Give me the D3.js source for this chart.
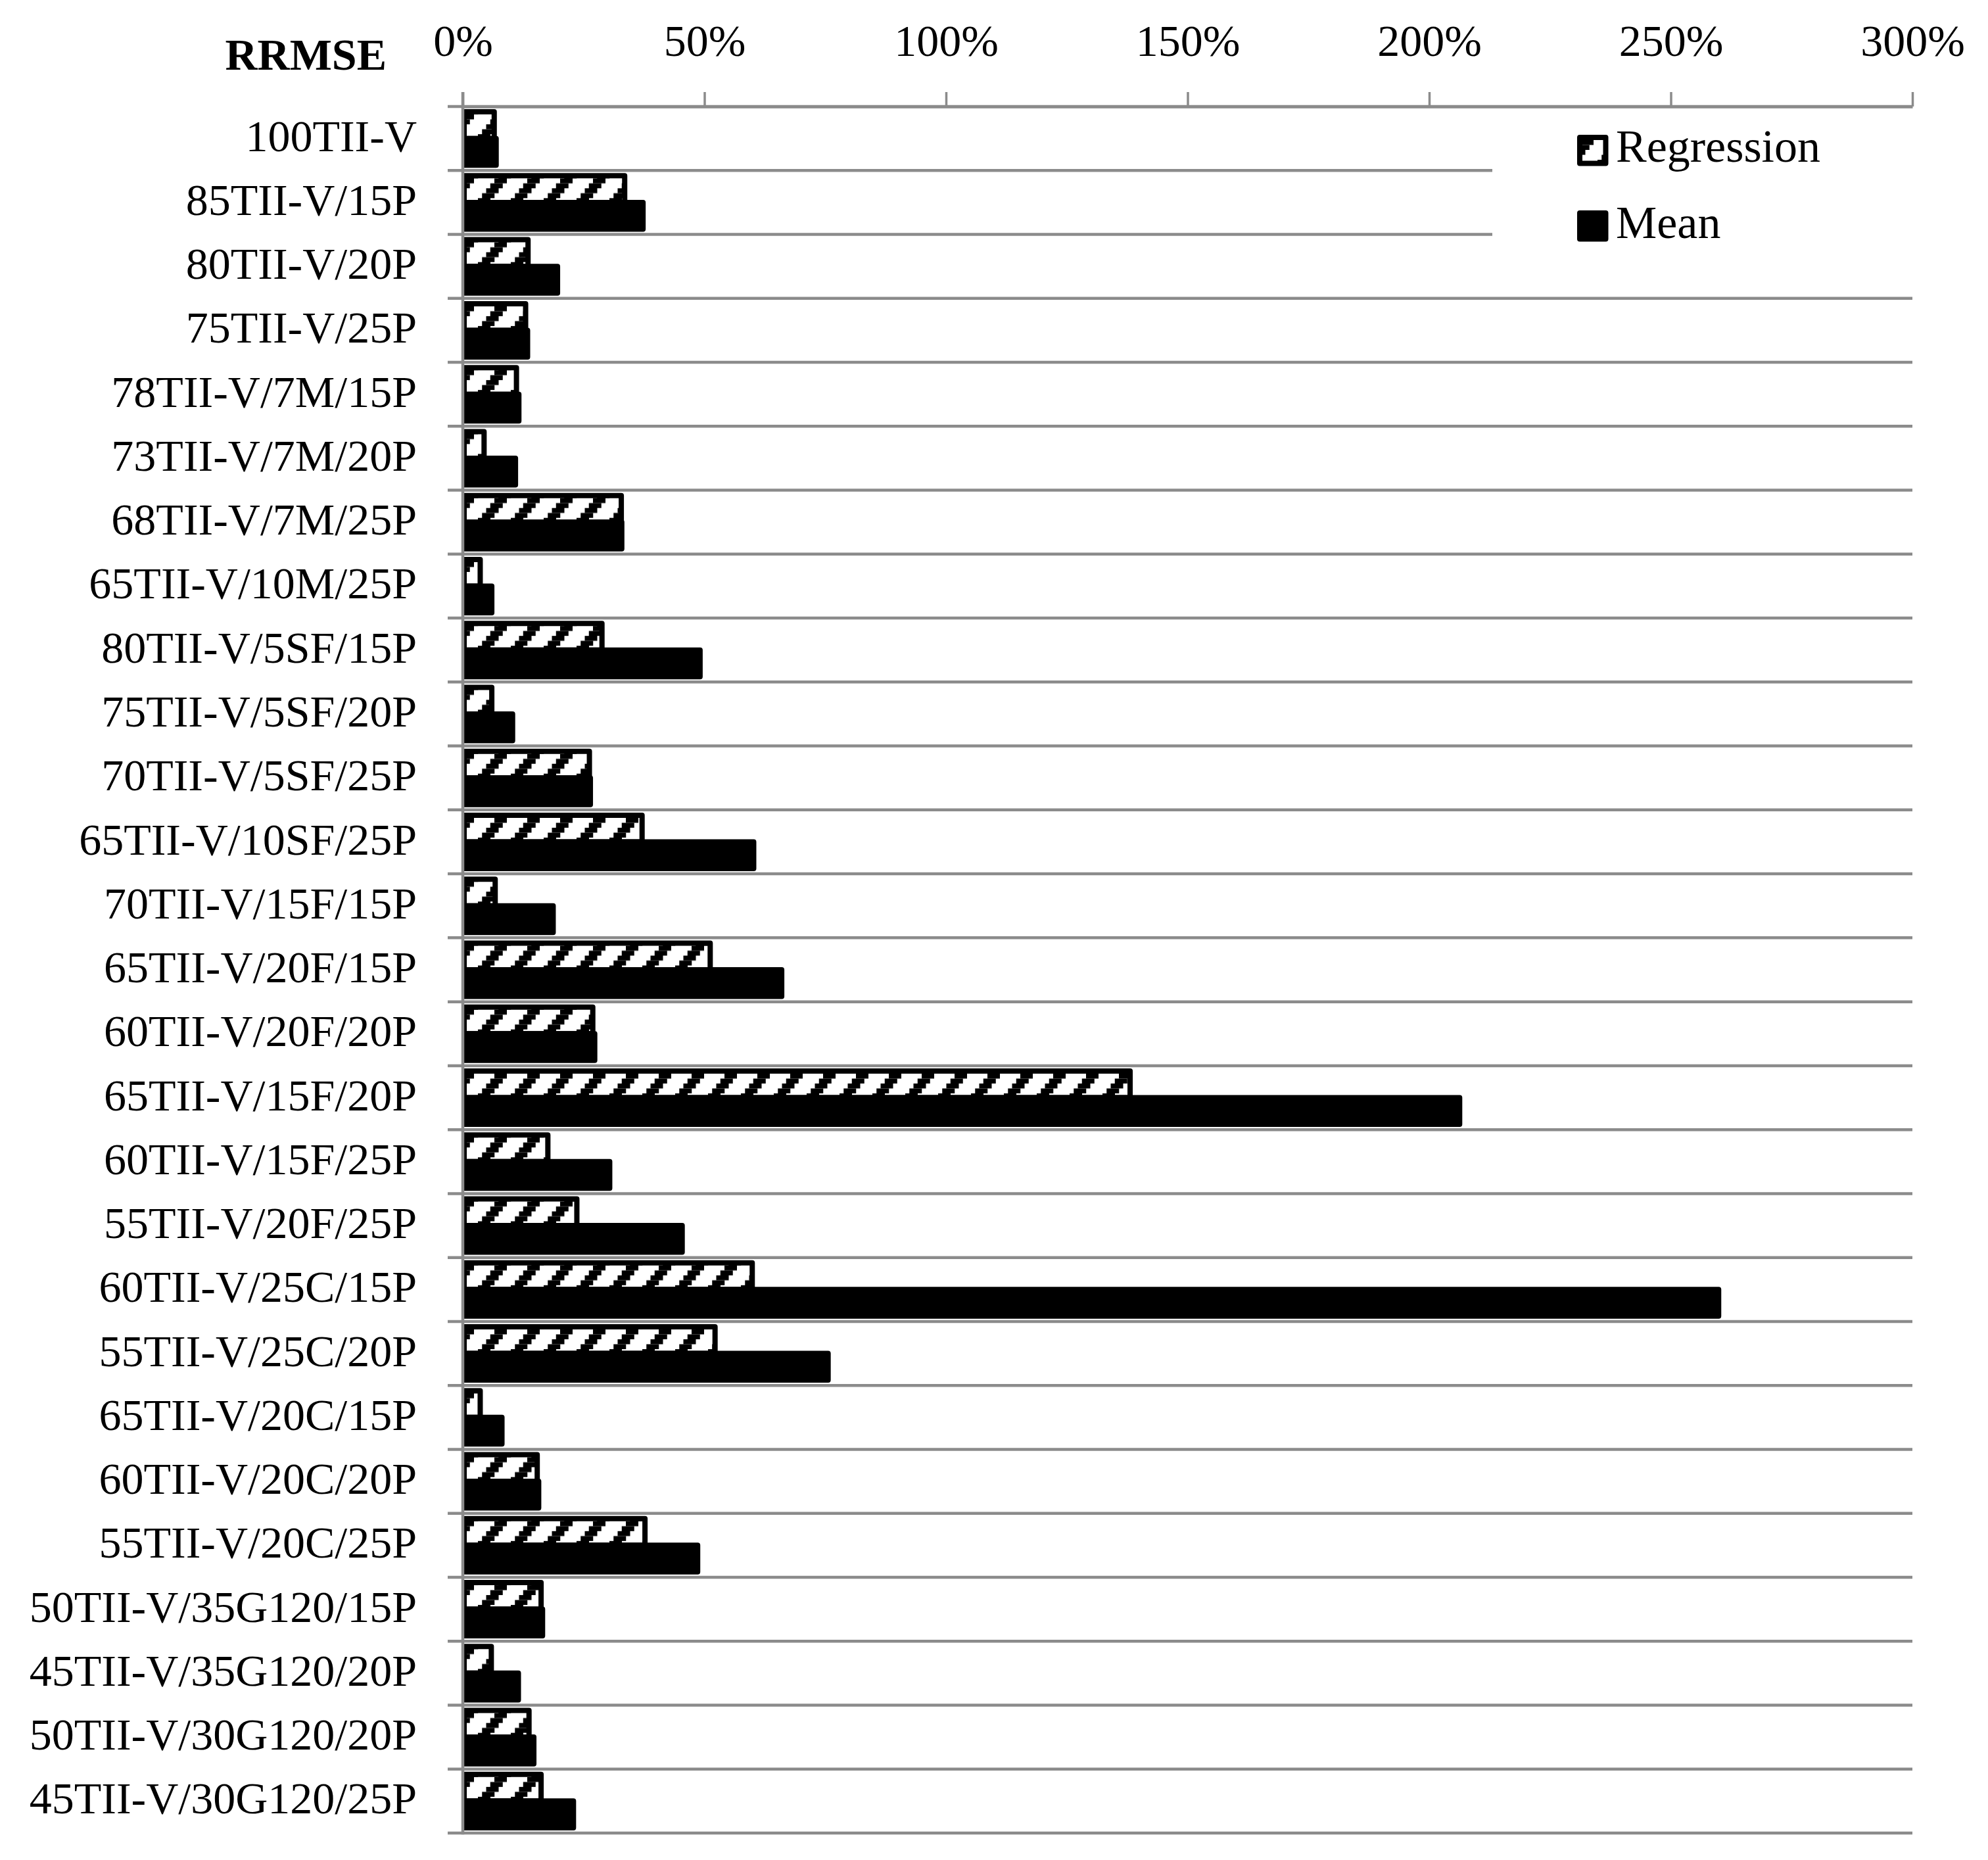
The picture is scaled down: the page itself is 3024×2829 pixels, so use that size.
<!DOCTYPE html>
<html>
<head>
<meta charset="utf-8">
<script src="https://cdn.jsdelivr.net/npm/d3@7"></script>
<style>
  body { margin: 0; background: #fff; }
  svg text { font-family: "Palatino Linotype", "Book Antiqua", Palatino, "Liberation Serif", "Times New Roman", serif; fill: #000; }
</style>
</head>
<body>
<svg id="chart" width="3024" height="2829"></svg>
<script>
// RRMSE per mixture, regression vs mean model (horizontal grouped bars)
const categories = [
  '100TII-V', '85TII-V/15P', '80TII-V/20P', '75TII-V/25P', '78TII-V/7M/15P',
  '73TII-V/7M/20P', '68TII-V/7M/25P', '65TII-V/10M/25P', '80TII-V/5SF/15P',
  '75TII-V/5SF/20P', '70TII-V/5SF/25P', '65TII-V/10SF/25P', '70TII-V/15F/15P',
  '65TII-V/20F/15P', '60TII-V/20F/20P', '65TII-V/15F/20P', '60TII-V/15F/25P',
  '55TII-V/20F/25P', '60TII-V/25C/15P', '55TII-V/25C/20P', '65TII-V/20C/15P',
  '60TII-V/20C/20P', '55TII-V/20C/25P', '50TII-V/35G120/15P', '45TII-V/35G120/20P',
  '50TII-V/30G120/20P', '45TII-V/30G120/25P'
];
const series = ['Regression', 'Mean'];
const regression = [6.5, 33.5, 13.5, 13.0, 11.1, 4.4, 32.8, 3.6, 28.8, 6.0, 26.2, 37.1, 6.7, 51.2,
  26.9, 138.1, 17.6, 23.6, 59.9, 52.2, 3.6, 15.4, 37.7, 16.2, 5.9, 13.7, 16.2];
const mean = [6.9, 37.3, 19.6, 13.4, 11.6, 10.9, 32.9, 6.0, 49.1, 10.3, 26.4, 60.2, 18.7, 66.0,
  27.3, 206.3, 30.4, 45.4, 259.9, 75.6, 8.1, 15.7, 48.6, 16.5, 11.5, 14.7, 22.9];
const tickValues = [0, 50, 100, 150, 200, 250, 300];

const svg = d3.select('#chart');
const GRID = '#8b8b8b', FS = 68, SW = 8;
const x = d3.scaleLinear().domain([0, 300]).range([704, 2909]);
const y = d3.scaleBand().domain(categories).range([162, 2788]);
const ys = d3.scaleBand().domain(series).range([0, y.bandwidth()]).paddingOuter(0.2);

// wide upward diagonal hatch, one pattern per bar so every bar starts in phase
const defs = svg.append('defs');
function hatch(id, tx, ty) {
  const p = defs.append('pattern').attr('id', id)
    .attr('patternUnits', 'userSpaceOnUse').attr('width', 50).attr('height', 60)
    .attr('patternTransform', `translate(${tx},${ty})`);
  p.append('rect').attr('width', 50).attr('height', 60).attr('fill', '#fff');
  for (let r = 0; r < 8; r++) {
    const bx = ((48 - 6.25 * r) % 50 + 50) % 50;
    [bx, bx - 50].forEach(xx => p.append('rect').attr('x', xx).attr('y', r * 7.5)
      .attr('width', 19).attr('height', 7.5).attr('fill', '#000'));
  }
}
categories.forEach((c, i) => hatch('hatch-' + i, x(0), y(c) + ys('Regression') + SW / 2));

// category separators (also the tick marks left of the axis)
const seps = categories.map(c => y(c)).concat([y.range()[1]]);
svg.append('g').selectAll('line').data(seps).join('line')
  .attr('x1', 681).attr('x2', x(300)).attr('y1', d => d).attr('y2', d => d)
  .attr('stroke', GRID).attr('stroke-width', 4.5);

// bars
const bars = svg.append('g');
bars.selectAll('rect.reg').data(regression).join('rect').attr('class', 'reg')
  .attr('x', x(0) + 2).attr('y', (d, i) => y(categories[i]) + ys('Regression'))
  .attr('width', d => x(d) - x(0) - 2).attr('height', ys.bandwidth())
  .attr('fill', (d, i) => `url(#hatch-${i})`)
  .attr('stroke', '#000').attr('stroke-width', SW).attr('stroke-linejoin', 'round');
bars.selectAll('rect.mean').data(mean).join('rect').attr('class', 'mean')
  .attr('x', x(0) + 2).attr('y', (d, i) => y(categories[i]) + ys('Mean'))
  .attr('width', d => x(d) - x(0) - 2).attr('height', ys.bandwidth())
  .attr('fill', '#000')
  .attr('stroke', '#000').attr('stroke-width', SW).attr('stroke-linejoin', 'round');

// value axis on top
const xAxis = svg.append('g').attr('transform', `translate(0,${y.range()[0]})`)
  .call(d3.axisTop(x).tickValues(tickValues).tickFormat(d => d + '%')
    .tickSize(22).tickSizeOuter(0).tickPadding(55));
xAxis.select('.domain').attr('stroke', GRID).attr('stroke-width', 4.5);
xAxis.selectAll('.tick line').attr('stroke', GRID).attr('stroke-width', 3.5);
xAxis.selectAll('.tick text').attr('font-size', FS).attr('font-family', null);

// vertical category axis line
svg.append('line').attr('x1', x(0)).attr('x2', x(0))
  .attr('y1', y.range()[0] - 22).attr('y2', y.range()[1] + 2.25)
  .attr('stroke', GRID).attr('stroke-width', 4.5);

// category labels
const yAxis = svg.append('g').attr('transform', `translate(${x(0)},0)`)
  .call(d3.axisLeft(y).tickSize(0).tickPadding(70));
yAxis.select('.domain').remove();
yAxis.selectAll('.tick text').attr('font-size', FS).attr('font-family', null).attr('dy', '0.28em');

svg.append('text').attr('x', 588).attr('y', 106).attr('text-anchor', 'end')
  .attr('font-size', FS).attr('font-weight', 'bold').text('RRMSE');

// legend
const lg = svg.append('g');
lg.append('rect').attr('x', 2270).attr('y', 178).attr('width', 700).attr('height', 262).attr('fill', '#fff');
hatch('hatch-legend', 2407, 213);
series.forEach((s, i) => {
  const top = 209 + i * 115;
  lg.append('rect').attr('x', 2403).attr('y', top).attr('width', 39.5).attr('height', 39.5)
    .attr('fill', s === 'Regression' ? 'url(#hatch-legend)' : '#000')
    .attr('stroke', '#000').attr('stroke-width', SW).attr('stroke-linejoin', 'round');
  lg.append('text').attr('x', 2458).attr('y', 246 + i * 116).attr('font-size', 70).text(s);
});
</script>
</body>
</html>
